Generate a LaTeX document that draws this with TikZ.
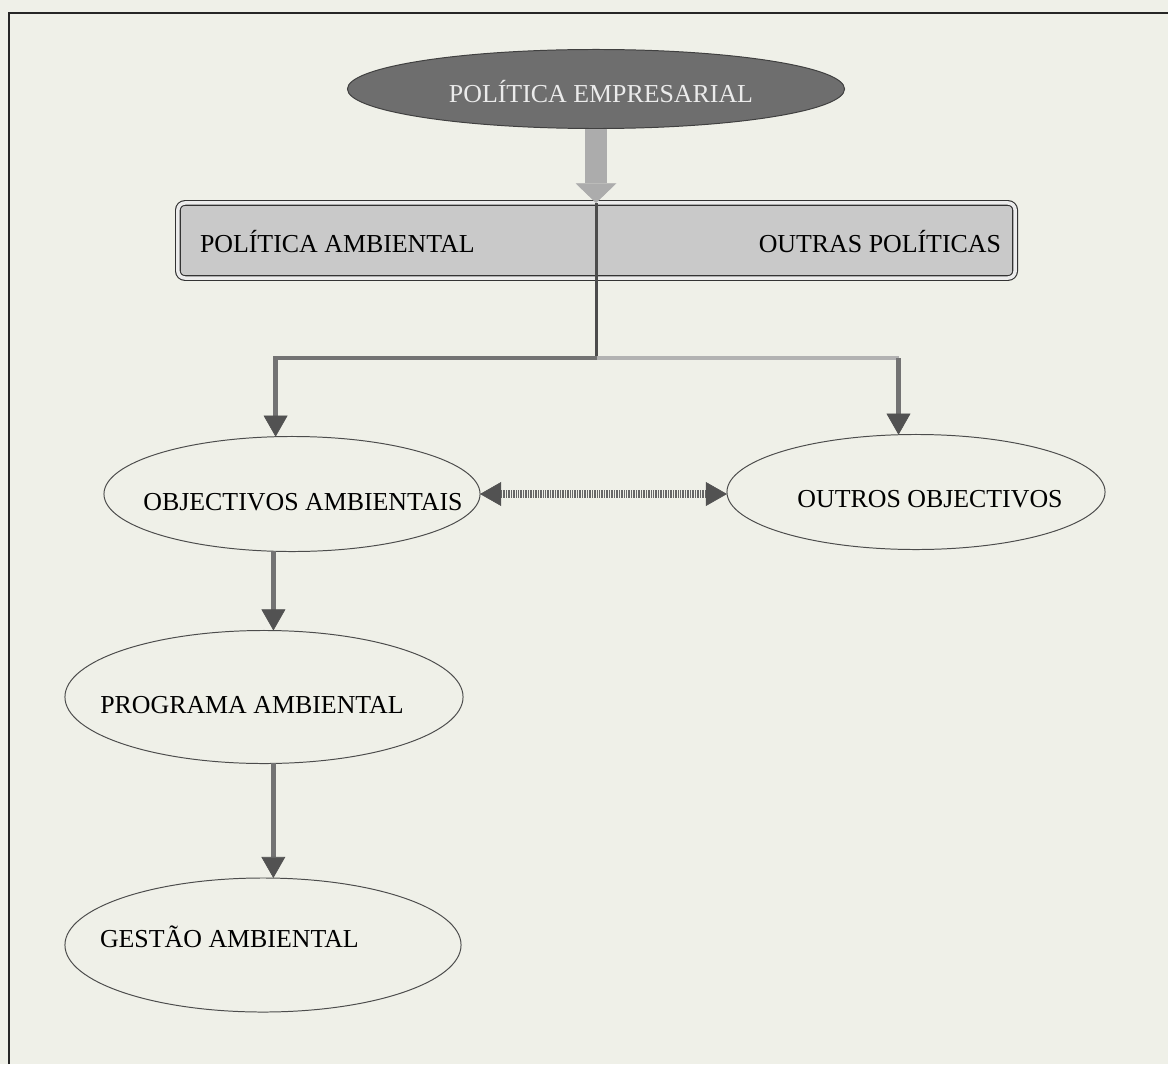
\documentclass[tikz,border=0pt]{standalone}
\usepackage{fontspec}
\setmainfont{Liberation Serif}
\usetikzlibrary{shapes,arrows.meta,positioning}

\definecolor{papel}{HTML}{EFF0E8}
\definecolor{escuro}{HTML}{6E6E6E}
\definecolor{caixa}{HTML}{C9C9C9}

\begin{document}
\begin{tikzpicture}[
                x=0.025cm, y=-0.025cm,
                every node/.style={
                        inner sep=0pt,
                        outer sep=0pt,
                        font=\fontsize{18.4}{22}\selectfont
                    },
                elipse/.style={
                        ellipse,
                        draw=black!70,
                        line width=0.7pt,
                        fill=papel
                    },
                texto/.style={anchor=base},
                seta/.style={
                        line width=3.5pt,
                        draw=black!55,
                        -{Triangle[width=17pt,length=15pt,line width=0.5pt,color=black!68]}
                    },
                bloco/.style={
                        line width=16pt,
                        draw=gray!65,
                        -{Triangle[width=29pt,length=14pt,line width=0.5pt,color=gray!65]}
                    },
                dupla/.style={
                        line width=5pt,
                        draw=black!60,
                        dash pattern=on 0.6pt off 0.6pt,
                        {Triangle[width=17pt,length=15pt,line width=0.5pt,color=black!68]}-{Triangle[width=17pt,length=15pt,line width=0.5pt,color=black!68]}
                    }
            ]

            % Fundo e moldura
            \fill[papel] (0,0) rectangle (1168,1064);
            \useasboundingbox (0,0) rectangle (1168,1064);
            \draw[line width=1.5pt, black!85] (9,1064) -- (9,13) -- (1168,13);

            % Nós principais posicionados manualmente
            \node[elipse, fill=escuro, draw=black!75, minimum width=12.425cm, minimum height=1.975cm] (emp) at (596,89) {};
            \node[texto, text=black!8] (temp) at (601,103) {POLÍTICA EMPRESARIAL};

            \node[draw=black!80, double=gray!15, double distance=2.5pt, line width=0.8pt,
                  rounded corners=5pt, fill=caixa, minimum width=20.925cm, minimum height=1.875cm] (pol) at (596.5,240.5) {};
            \node[texto, anchor=base west] (amb) at (200,252) {POLÍTICA AMBIENTAL};
            \node[texto, anchor=base east] (outras) at (1001,252) {OUTRAS POLÍTICAS};

            \node[elipse, minimum width=9.4cm, minimum height=2.875cm] (obj) at (292,494) {};
            \node[texto] (tobj) at (303,510) {OBJECTIVOS AMBIENTAIS};

            \node[elipse, minimum width=9.45cm, minimum height=2.875cm] (outr) at (916,492) {};
            \node[texto] (toutr) at (930,507) {OUTROS OBJECTIVOS};

            \node[elipse, minimum width=9.95cm, minimum height=3.325cm] (prog) at (264,697) {};
            \node[texto] (tprog) at (252,713) {PROGRAMA AMBIENTAL};

            \node[elipse, minimum width=9.9cm, minimum height=3.35cm] (gest) at (263,945) {};
            \node[texto, anchor=base west] (tgest) at (100,947) {GESTÃO AMBIENTAL};

            \coordinate (split) at (596.5,358);

            % Setas
            \draw[bloco] (emp.south) -- (emp.south |- pol.north);
            \draw[line width=2.2pt, black!70] (pol.north) -- (split);
            \draw[seta] (split) -| (obj.106);
            \draw[line width=3.5pt, black!30] (split) -- (split -| outr.107);
            \draw[seta] (split -| outr.107) -- (outr.107);
            \draw[dupla] (obj.east) -- (obj.east -| outr.west);
            \draw[seta] (obj.252) -- (obj.252 |- prog.north);
            \draw[seta] (prog.278) -- (prog.278 |- gest.north);

        \end{tikzpicture}
\end{document}
